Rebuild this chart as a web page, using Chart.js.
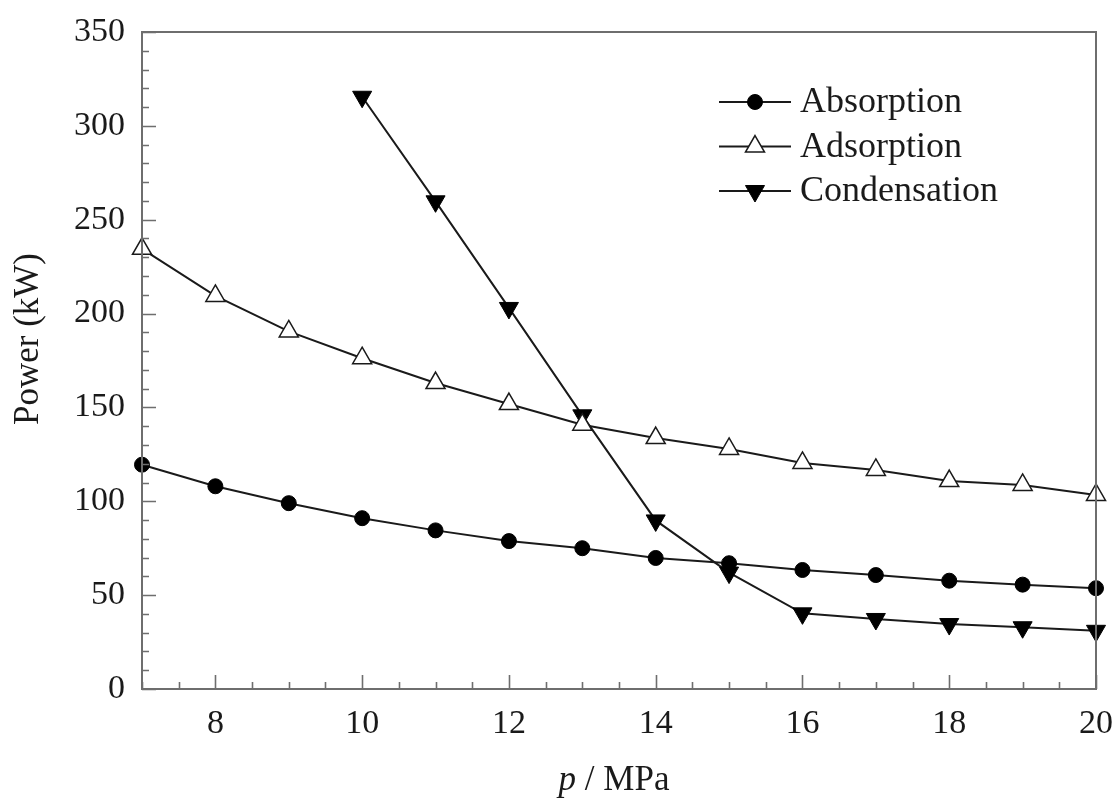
<!DOCTYPE html>
<html><head><meta charset="utf-8">
<script src="https://cdn.jsdelivr.net/npm/chart.js@4/dist/chart.umd.min.js"></script>
<style>html,body{margin:0;padding:0;background:#fff}</style>
</head><body>
<canvas id="c" width="1114" height="798"></canvas>
<script>
const pressure     = [7, 8, 9, 10, 11, 12, 13, 14, 15, 16, 17, 18, 19, 20];
const absorption   = [119.5, 108, 99, 91, 84.5, 78.8, 75, 69.8, 67, 63.4, 60.7, 57.7, 55.6, 53.7];
const adsorption   = [234.5, 209.4, 190.5, 176.2, 163, 151.8, 140.8, 133.7, 127.9, 120.4, 116.7, 110.8, 108.7, 103.4];
const condensation = [null, null, null, 315.5, 259.8, 203, 145.8, 89.8, 62, 40.3, 37.3, 34.6, 32.9, 31];
const seriesNames  = ['Absorption', 'Adsorption', 'Condensation'];
const xTickLabels  = [8, 10, 12, 14, 16, 18, 20];
const yTickLabels  = [0, 50, 100, 150, 200, 250, 300, 350];
const xTitleItalic = 'p';
const xTitleRest   = ' / MPa';
const yTitle       = 'Power (kW)';

const FONT = '"Liberation Serif", "Times New Roman", serif';
const INK = '#1a1a1a';
const AXIS = '#6e6e6e';

function pts(arr) { return pressure.map((x, i) => ({x: x, y: arr[i]})); }

const framePlugin = {
  id: 'frame',
  afterDatasetsDraw(chart) {
    const {ctx, chartArea: a, scales} = chart;
    const xs = scales.x, ys = scales.y;
    ctx.save();
    ctx.strokeStyle = AXIS;
    ctx.lineWidth = 2;
    ctx.strokeRect(a.left, a.top, a.right - a.left, a.bottom - a.top);
    ctx.lineWidth = 1.6;
    ctx.beginPath();
    for (let v = ys.min; v <= ys.max + 1e-9; v += 10) {
      const len = (Math.round(v) % 50 === 0) ? 14 : 7;
      const py = Math.round(ys.getPixelForValue(v)) + 0.5;
      ctx.moveTo(a.left, py); ctx.lineTo(a.left + len, py);
    }
    for (let v = xs.min; v <= xs.max + 1e-9; v += 0.5) {
      const isMajor = xTickLabels.indexOf(v) >= 0;
      const len = isMajor ? 14 : 7;
      const px = Math.round(xs.getPixelForValue(v)) + 0.5;
      ctx.moveTo(px, a.bottom); ctx.lineTo(px, a.bottom - len);
    }
    ctx.stroke();
    ctx.restore();
  },
  afterDraw(chart) {
    const {ctx, chartArea: a} = chart;
    ctx.save();
    ctx.fillStyle = INK;
    const fs = 35;
    const f1 = 'italic ' + fs + 'px ' + FONT;
    const f2 = fs + 'px ' + FONT;
    ctx.font = f1; const w1 = ctx.measureText(xTitleItalic).width;
    ctx.font = f2; const w2 = ctx.measureText(xTitleRest).width;
    const cx = (a.left + a.right) / 2 - 5;
    const x0 = cx - (w1 + w2) / 2;
    ctx.textBaseline = 'alphabetic';
    ctx.font = f1; ctx.fillText(xTitleItalic, x0, 790);
    ctx.font = f2; ctx.fillText(xTitleRest, x0 + w1, 790);

    ctx.save();
    ctx.translate(38, 339);
    ctx.rotate(-Math.PI / 2);
    ctx.font = '35px ' + FONT;
    ctx.textAlign = 'center';
    ctx.textBaseline = 'alphabetic';
    ctx.fillText(yTitle, 0, 0);
    ctx.restore();

    const lx0 = 719, lx1 = 791, mx = 755, tx = 800;
    chart.data.datasets.forEach((ds, i) => {
      const y = 102 + i * 44.5;
      ctx.strokeStyle = ds.borderColor;
      ctx.lineWidth = ds.borderWidth;
      ctx.beginPath(); ctx.moveTo(lx0, y); ctx.lineTo(lx1, y); ctx.stroke();
      const r = ds.pointRadius;
      ctx.fillStyle = ds.pointBackgroundColor;
      ctx.strokeStyle = ds.pointBorderColor;
      ctx.lineWidth = ds.pointBorderWidth;
      ctx.beginPath();
      if (ds.pointStyle === 'circle') {
        ctx.arc(mx, y, r, 0, Math.PI * 2);
      } else {
        const rot = (ds.pointRotation || 0) * Math.PI / 180;
        for (let k = 0; k < 3; k++) {
          const ang = rot + k * 2 * Math.PI / 3;
          const px = mx + Math.sin(ang) * r, py = y - Math.cos(ang) * r;
          if (k === 0) ctx.moveTo(px, py); else ctx.lineTo(px, py);
        }
        ctx.closePath();
      }
      ctx.fill(); ctx.stroke();
      ctx.fillStyle = INK;
      ctx.font = '36px ' + FONT;
      ctx.textBaseline = 'middle';
      ctx.textAlign = 'left';
      ctx.fillText(ds.label, tx, y + 1);
    });
    ctx.restore();
  }
};

new Chart(document.getElementById('c'), {
  type: 'line',
  data: {
    datasets: [
      { label: seriesNames[0], data: pts(absorption), borderColor: INK, borderWidth: 2,
        pointStyle: 'circle', pointRadius: 7.5, pointBackgroundColor: '#000', pointBorderColor: '#000',
        pointBorderWidth: 1, tension: 0, clip: false },
      { label: seriesNames[1], data: pts(adsorption), borderColor: INK, borderWidth: 2,
        pointStyle: 'triangle', pointRadius: 11, pointBackgroundColor: '#fff', pointBorderColor: INK,
        pointBorderWidth: 1.5, tension: 0, clip: false },
      { label: seriesNames[2], data: pts(condensation), borderColor: INK, borderWidth: 2,
        pointStyle: 'triangle', pointRotation: 180, pointRadius: 11, pointBackgroundColor: '#000',
        pointBorderColor: '#000', pointBorderWidth: 1, tension: 0, clip: false }
    ]
  },
  options: {
    responsive: false,
    animation: false,
    events: [],
    layout: { padding: { top: 32, right: 18, left: 0, bottom: 0 } },
    plugins: { legend: { display: false }, tooltip: { enabled: false } },
    scales: {
      x: {
        type: 'linear', min: 7, max: 20,
        grid: { display: false, drawTicks: false },
        border: { display: false },
        afterBuildTicks(s) { s.ticks = xTickLabels.map(v => ({value: v})); },
        afterFit(s) { s.height = 109; s.paddingLeft = 0; s.paddingRight = 0; },
        ticks: { color: INK, padding: 15, font: { family: FONT, size: 34 }, maxRotation: 0,
                 callback: v => String(v) }
      },
      y: {
        type: 'linear', min: 0, max: 350,
        grid: { display: false, drawTicks: false },
        border: { display: false },
        afterBuildTicks(s) { s.ticks = yTickLabels.map(v => ({value: v})); },
        afterFit(s) { s.width = 142; s.paddingTop = 0; s.paddingBottom = 0; },
        ticks: { color: INK, padding: 17, font: { family: FONT, size: 34 }, callback: v => String(v) },
        title: { display: false }
      }
    }
  },
  plugins: [framePlugin]
});
</script>
</body></html>
